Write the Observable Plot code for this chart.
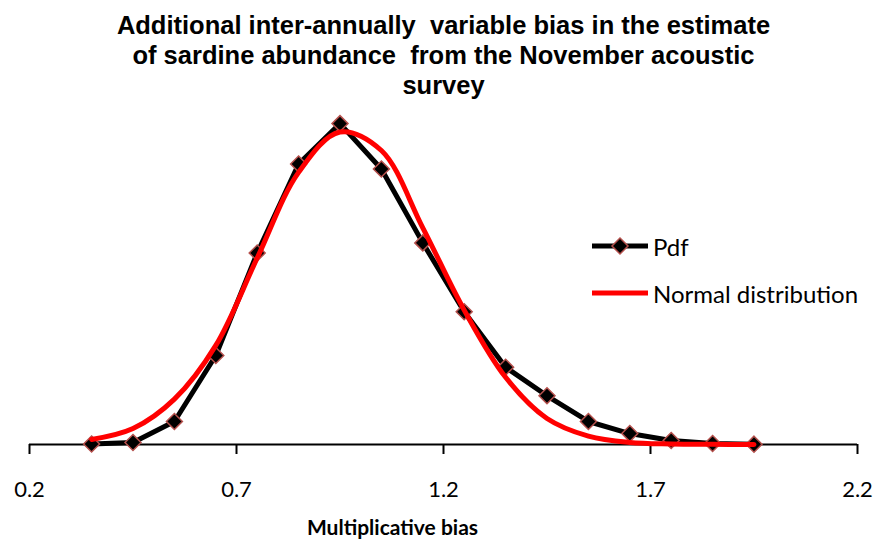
<!DOCTYPE html>
<html>
<head>
<meta charset="utf-8">
<script src="https://cdn.jsdelivr.net/npm/d3@7"></script>
<script src="https://cdn.jsdelivr.net/npm/@observablehq/plot@0.6"></script>
<style>
  body { margin: 0; background: #fff; width: 877px; height: 541px; position: relative; overflow: hidden; }
  #title {
    height: 100px; box-sizing: border-box; padding-top: 10px; padding-left: 10px;
    font-family: "Liberation Sans", Arial, sans-serif; font-weight: bold; font-size: 25.5px;
    line-height: 30px; text-align: center; color: #000; white-space: pre;
  }
  #legend { position: absolute; left: 592px; top: 230px; font-family: Lato, sans-serif; font-size: 24px; }
  .item { display: flex; align-items: center; height: 32px; margin-bottom: 15px; }
  .item span { margin-left: 5px; }
</style>
</head>
<body>
<div id="title">Additional inter-annually  variable bias in the estimate
of sardine abundance  from the November acoustic
survey</div>
<div id="chart"></div>
<div id="legend">
  <div class="item">
    <svg width="56" height="20"><line x1="0" y1="10" x2="56" y2="10" stroke="#000" stroke-width="5"/><path d="M28,2 L36,10 L28,18 L20,10 Z" fill="#000" stroke="#b5504c" stroke-width="1.5"/></svg>
    <span>Pdf</span>
  </div>
  <div class="item">
    <svg width="56" height="20"><line x1="0" y1="10" x2="56" y2="10" stroke="#ff0000" stroke-width="5"/></svg>
    <span>Normal distribution</span>
  </div>
</div>
<script>
// bias values (x) and the two curves
const bias = [0.35, 0.45, 0.55, 0.65, 0.75, 0.85, 0.95, 1.05, 1.15, 1.25, 1.35, 1.45, 1.55, 1.65, 1.75, 1.85, 1.95];
const pdf = [0.003, 0.012, 0.137, 0.53, 1.14, 1.67, 1.91, 1.64, 1.20, 0.79, 0.46, 0.29, 0.137, 0.065, 0.024, 0.006, 0.002];
const normal = [0.03, 0.095, 0.27, 0.59, 1.11, 1.62, 1.86, 1.75, 1.29, 0.80, 0.40, 0.155, 0.05, 0.012, 0.003, 0.001, 0.0];
const xTicks = [0.2, 0.7, 1.2, 1.7, 2.2];

const pdfData = bias.map((x, i) => ({x, y: pdf[i]}));
const normalData = bias.map((x, i) => ({x, y: normal[i]}));

const chart = Plot.plot({
  width: 877,
  height: 441,
  marginLeft: 29,
  marginRight: 20,
  marginTop: 8,
  marginBottom: 97,
  style: {fontFamily: "Lato, sans-serif", fontSize: "21px", color: "#000", overflow: "visible"},
  x: {domain: [0.2, 2.2]},
  y: {domain: [0, 2], axis: null},
  marks: [
    Plot.ruleY([0], {stroke: "#000", strokeWidth: 2}),
    Plot.axisX({ticks: xTicks, tickFormat: d3.format(".1f"), tickSize: 10, tickPadding: 27, strokeWidth: 2, stroke: "#000", label: null, fontSize: 22}),
    Plot.text(["Multiplicative bias"], {frameAnchor: "bottom", dx: -51, dy: 90, fontWeight: "bold", fontSize: 21}),
    Plot.line(pdfData, {x: "x", y: "y", stroke: "#000", strokeWidth: 5}),
    Plot.dot(pdfData, {x: "x", y: "y", symbol: "diamond2", r: 7.2, fill: "#000", stroke: "#b5504c", strokeWidth: 1.5}),
    Plot.line(normalData, {x: "x", y: "y", stroke: "#ff0000", strokeWidth: 5, curve: "catmull-rom"})
  ]
});
document.getElementById("chart").append(chart);
</script>
</body>
</html>
